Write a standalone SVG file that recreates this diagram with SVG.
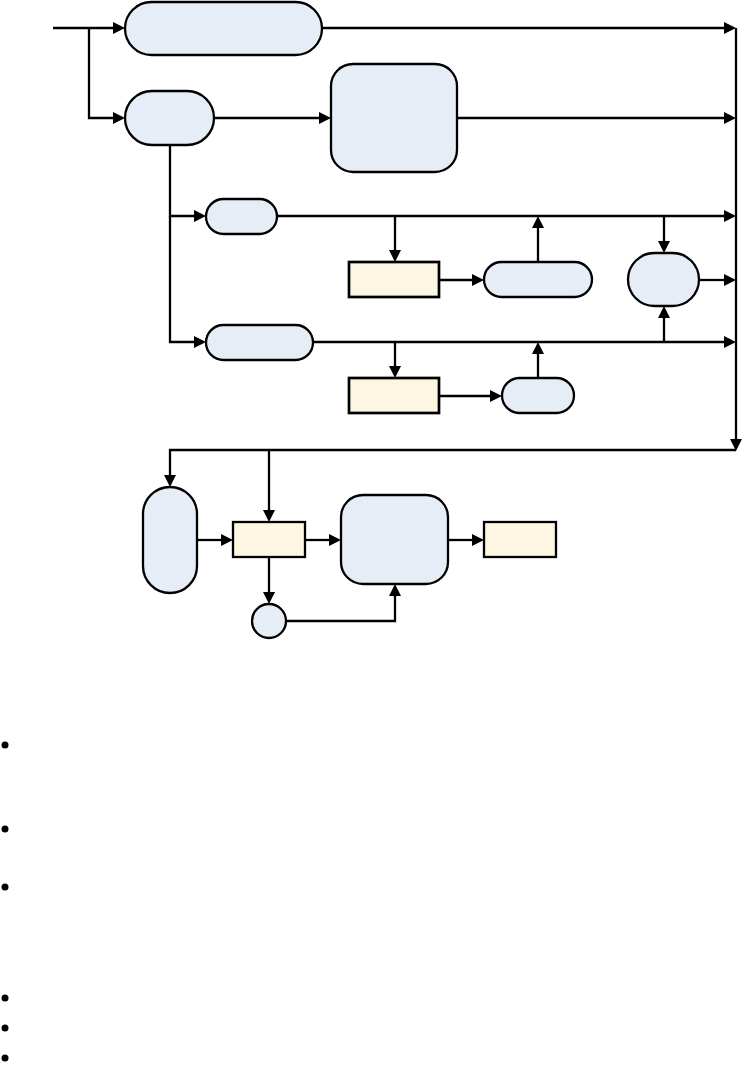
<svg xmlns="http://www.w3.org/2000/svg" xmlns:xlink="http://www.w3.org/1999/xlink" width="744" height="1070" viewBox="0 0 744 1070">
<style>
.n{fill:#e6edf7;stroke:#000;stroke-width:2.3}
.b{fill:#fdf6e3;stroke:#000;stroke-width:2.7}
.c{fill:none;stroke:#000;stroke-width:2.3}
.dot{fill:#000}
.ah{fill:#000}
</style>
<defs>
<path id="ar" d="M0,0 L-12,-6 L-12,6 z"/>
</defs>
<rect width="744" height="1070" fill="#fff"/>
<g id="connectors">
<path class="c" d="M53,28 H118"/>
<path class="c" d="M89,28 V118 H118"/>
<path class="c" d="M322,28 H728"/>
<path class="c" d="M214,118 H324"/>
<path class="c" d="M457,118 H728"/>
<path class="c" d="M736,28 V443"/>
<path class="c" d="M170,145 V216 H199"/>
<path class="c" d="M170,216 V342 H199"/>
<path class="c" d="M277,216 H728"/>
<path class="c" d="M395,216 V255"/>
<path class="c" d="M439,280 H477"/>
<path class="c" d="M538,262 V223"/>
<path class="c" d="M664,216 V246"/>
<path class="c" d="M699,280 H728"/>
<path class="c" d="M313,342 H728"/>
<path class="c" d="M664,342 V313"/>
<path class="c" d="M395,342 V371"/>
<path class="c" d="M439,396 H495" style="stroke-width:2.7"/>
<path class="c" d="M538,378 V349"/>
<path class="c" d="M736,450 H170 V480"/>
<path class="c" d="M269,450 V515"/>
<path class="c" d="M197,540 H226"/>
<path class="c" d="M305,540 H334"/>
<path class="c" d="M448,540 H477"/>
<path class="c" d="M269,557 V597"/>
<path class="c" d="M286,621 H395 V591"/>
<g class="ah">
<use xlink:href="#ar" transform="translate(125,28)"/>
<use xlink:href="#ar" transform="translate(125,118)"/>
<use xlink:href="#ar" transform="translate(736,28)"/>
<use xlink:href="#ar" transform="translate(331,118)"/>
<use xlink:href="#ar" transform="translate(736,118)"/>
<use xlink:href="#ar" transform="translate(736,451) rotate(90)"/>
<use xlink:href="#ar" transform="translate(206,216)"/>
<use xlink:href="#ar" transform="translate(206,342)"/>
<use xlink:href="#ar" transform="translate(736,216)"/>
<use xlink:href="#ar" transform="translate(395,262) rotate(90)"/>
<use xlink:href="#ar" transform="translate(484,280)"/>
<use xlink:href="#ar" transform="translate(538,216) rotate(-90)"/>
<use xlink:href="#ar" transform="translate(664,253) rotate(90)"/>
<use xlink:href="#ar" transform="translate(736,280)"/>
<use xlink:href="#ar" transform="translate(736,342)"/>
<use xlink:href="#ar" transform="translate(664,306) rotate(-90)"/>
<use xlink:href="#ar" transform="translate(395,378) rotate(90)"/>
<use xlink:href="#ar" transform="translate(502,396)"/>
<use xlink:href="#ar" transform="translate(538,342) rotate(-90)"/>
<use xlink:href="#ar" transform="translate(170,487) rotate(90)"/>
<use xlink:href="#ar" transform="translate(269,522) rotate(90)"/>
<use xlink:href="#ar" transform="translate(233,540)"/>
<use xlink:href="#ar" transform="translate(341,540)"/>
<use xlink:href="#ar" transform="translate(484,540)"/>
<use xlink:href="#ar" transform="translate(269,604) rotate(90)"/>
<use xlink:href="#ar" transform="translate(395,584) rotate(-90)"/>
</g>
</g>
<g id="nA"><rect class="n" x="125" y="2" width="197" height="53" rx="26.5"/></g>
<g id="nB"><rect class="n" x="125" y="91" width="89" height="54" rx="27"/></g>
<g id="nC"><rect class="n" x="331" y="64" width="126" height="108" rx="22"/></g>
<g id="nD"><rect class="n" x="206" y="199" width="71" height="35" rx="17.5"/></g>
<g id="nE"><rect class="n" x="206" y="325" width="107" height="35" rx="17.5"/></g>
<g id="nF"><rect class="b" x="349" y="262" width="90" height="35"/></g>
<g id="nG"><rect class="n" x="484" y="262" width="108" height="35" rx="17.5"/></g>
<g id="nH"><rect class="n" x="628" y="253" width="71" height="53" rx="26.5"/></g>
<g id="nI"><rect class="b" x="349" y="378" width="90" height="35"/></g>
<g id="nJ"><rect class="n" x="502" y="378" width="72" height="35" rx="17.5"/></g>
<g id="nK"><rect class="n" x="143" y="487" width="54" height="106" rx="27"/></g>
<g id="nL"><rect class="b" x="233" y="522" width="72" height="35" style="stroke-width:2.3"/></g>
<g id="nM"><rect class="n" x="341" y="495" width="107" height="89" rx="22"/></g>
<g id="nN"><rect class="b" x="484" y="522" width="72" height="35" style="stroke-width:2.3"/></g>
<g id="nO"><circle class="n" cx="269" cy="621" r="17"/></g>
<g id="bullets">
<circle class="dot" cx="5" cy="745" r="3.5"/>
<circle class="dot" cx="5" cy="829" r="3.5"/>
<circle class="dot" cx="5" cy="887" r="3.5"/>
<circle class="dot" cx="5" cy="998" r="3.5"/>
<circle class="dot" cx="5" cy="1028" r="3.5"/>
<circle class="dot" cx="5" cy="1058" r="3.5"/>
</g>
</svg>
